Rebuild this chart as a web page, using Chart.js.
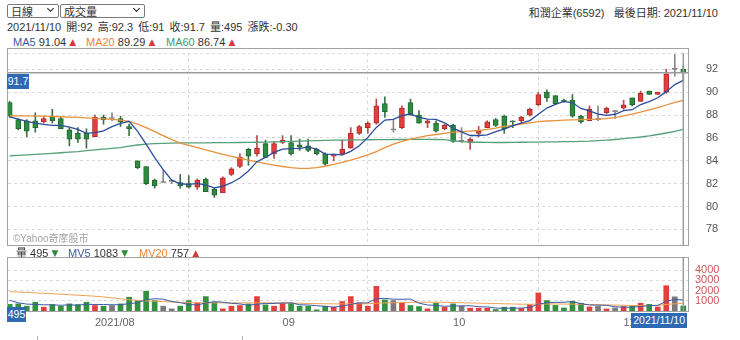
<!DOCTYPE html>
<html lang="zh-Hant">
<head>
<meta charset="utf-8">
<title>和潤企業(6592) 日線</title>
<script src="https://cdn.jsdelivr.net/npm/chart.js@4.4.1/dist/chart.umd.min.js"></script>
<style>
  html,body{margin:0;padding:0;background:#fff}
  body{width:740px;height:340px;position:relative;overflow:hidden;
       font-family:"Liberation Sans",Arial,"Noto Sans CJK TC",sans-serif;color:#333;font-size:11px}
  .t{position:absolute;white-space:nowrap;line-height:14px}
  .sel{position:absolute;top:4px;height:12px;border:1px solid #7a7a7a;border-radius:2px;background:#fff;
       line-height:12px;font-size:11px;padding-left:3px;font-family:"Noto Sans CJK TC",sans-serif}
  .sel i{position:absolute;right:5px;top:1px;width:4px;height:4px;border-right:1.6px solid #222;
         border-bottom:1.6px solid #222;transform:rotate(45deg)}
  .panel{position:absolute;border:1px solid #a2a2a2;box-sizing:border-box;pointer-events:none}
  .tag{position:absolute;background:#2f69b3;color:#fff;font-size:10.5px;line-height:15px;height:15px;
       text-align:center;white-space:nowrap}
  canvas{position:absolute;left:0}
  .up{color:#d9363e}.dn{color:#2f8a3e}
  .tri{font-size:9px;font-family:"DejaVu Sans",sans-serif;position:relative;top:-1px}
  .nav{position:absolute;top:336px;width:1px;height:4px;background:#b0b0b0}
</style>
</head>
<body>
<div class="sel" style="left:7px;width:47px">日線<i></i></div>
<div class="sel" style="left:60px;width:80px">成交量<i></i></div>
<div class="t" style="right:22px;top:6px">和潤企業(6592)&nbsp;&nbsp; 最後日期: <span id="lastDate"></span></div>

<div class="t" id="quote" style="left:7px;top:20px;word-spacing:2px"></div>
<div id="maLegend"></div>

<canvas id="price" width="740" height="202" style="top:48px"></canvas>
<div class="panel" style="left:7px;top:48px;width:682px;height:198px"></div>
<div class="t" style="left:13px;top:232px;font-size:10px;color:#a3a3a3">©Yahoo奇摩股市</div>

<div id="volLegend"></div>
<canvas id="vol" width="740" height="85" style="top:250px"></canvas>
<div class="panel" style="left:7px;top:257px;width:682px;height:55px"></div>

<div class="tag" id="priceTag" style="left:7px;width:22px"></div>
<div class="tag" id="volTag" style="left:7px;width:19px"></div>
<div class="tag" id="dateTag" style="right:53px;top:313px;padding:0 2px"></div>
<div class="nav" style="left:37px"></div>
<div class="nav" style="left:242px"></div>

<script>
// Trading days shown on the daily chart
const dates = [
  "2021/07/19","2021/07/20","2021/07/21","2021/07/22","2021/07/23","2021/07/26","2021/07/27","2021/07/28","2021/07/29","2021/07/30",
  "2021/08/02","2021/08/03","2021/08/04","2021/08/05","2021/08/06","2021/08/09","2021/08/10","2021/08/11","2021/08/12","2021/08/13",
  "2021/08/16","2021/08/17","2021/08/18","2021/08/19","2021/08/20","2021/08/23","2021/08/24","2021/08/25","2021/08/26","2021/08/27",
  "2021/08/30","2021/08/31",
  "2021/09/01","2021/09/02","2021/09/03","2021/09/06","2021/09/07","2021/09/08","2021/09/09","2021/09/10","2021/09/13","2021/09/14",
  "2021/09/15","2021/09/16","2021/09/17","2021/09/22","2021/09/23","2021/09/24","2021/09/27","2021/09/28","2021/09/29","2021/09/30",
  "2021/10/01","2021/10/04","2021/10/05","2021/10/06","2021/10/07","2021/10/08","2021/10/12","2021/10/13","2021/10/14","2021/10/15",
  "2021/10/18","2021/10/19","2021/10/20","2021/10/21","2021/10/22","2021/10/25","2021/10/26","2021/10/27","2021/10/28","2021/10/29",
  "2021/11/01","2021/11/02","2021/11/03","2021/11/04","2021/11/05","2021/11/08","2021/11/09","2021/11/10"
];

const opens = [
  89.1,87.6,87.5,87.5,87.4,87.9,87.7,86.7,86.4,86.4,
  86.1,87.8,87.7,87.7,87.0,84.0,83.5,82.3,82.1,82.2,
  82.1,82.0,81.7,82.4,81.5,81.2,82.8,83.5,85.0,84.6,
  85.5,84.6,85.6,85.6,85.4,85.3,85.0,84.6,84.4,84.6,
  85.1,86.4,86.9,87.3,89.0,86.7,86.9,89.1,88.0,87.3,
  87.3,86.8,87.1,85.7,85.6,86.4,86.9,87.6,87.9,87.5,
  87.5,88.0,88.9,90.0,89.7,89.3,89.3,87.9,87.5,87.6,
  88.2,88.3,88.6,89.5,89.2,90.1,89.8,90.0,92.0,92.0
];
const highs = [
  89.2,87.7,87.6,88.2,87.9,88.5,87.8,86.9,86.9,86.8,
  88.0,88.0,88.2,87.9,87.2,84.0,83.5,82.4,83.2,82.3,
  82.8,82.7,82.4,82.5,81.6,82.6,83.4,84.6,85.1,86.2,
  85.8,85.7,86.2,86.2,85.9,85.9,85.1,84.7,84.6,85.8,
  86.9,87.1,87.4,89.4,89.6,87.6,88.8,89.4,88.4,87.6,
  87.5,87.2,87.2,86.9,86.0,87.0,87.5,87.7,88.0,87.5,
  87.9,88.6,90.0,90.2,89.7,89.4,89.8,88.0,88.8,88.8,
  88.7,88.4,89.3,89.5,90.1,90.1,90.0,92.0,93.3,92.3
];
const lows = [
  87.8,86.7,86.1,86.5,87.3,87.3,86.8,85.3,85.6,85.1,
  86.1,87.2,87.5,87.0,86.2,83.3,81.9,81.6,82.1,82.0,
  81.6,81.6,81.5,81.3,80.8,81.2,82.7,83.4,83.6,84.4,
  84.3,84.2,85.5,84.5,84.9,84.8,84.5,83.6,84.0,84.5,
  85.1,86.3,86.4,87.2,87.8,86.5,86.8,88.0,87.3,86.9,
  86.5,86.7,85.6,85.6,85.0,86.1,86.9,87.0,86.4,86.9,
  87.3,87.9,88.8,89.2,89.0,89.1,87.8,87.3,87.5,87.5,
  88.1,87.7,88.5,88.8,89.2,89.8,89.8,89.9,91.4,91.0
];
const closes = [
  87.9,86.8,86.6,86.9,87.7,87.5,86.8,85.9,85.9,85.9,
  87.8,87.6,87.7,87.4,86.8,83.4,82.0,81.8,82.1,82.2,
  81.8,81.7,82.3,81.3,81.0,82.5,83.3,84.3,84.4,85.1,
  84.3,85.5,85.8,84.6,85.2,84.9,84.6,83.7,84.5,85.0,
  86.4,87.0,87.3,88.8,88.3,86.7,88.6,88.0,87.3,87.5,
  86.6,87.1,85.7,85.7,85.9,86.6,87.4,87.1,86.8,87.4,
  87.8,88.5,89.8,89.5,89.0,89.2,87.9,87.4,88.5,87.6,
  88.6,88.3,88.9,88.9,89.9,89.8,90.0,91.6,92.0,91.7
];

// Moving averages of the close
const ma5 = [
  87.85,87.65,87.45,87.30,87.18,87.09,87.10,86.94,86.75,86.40,
  86.46,86.62,86.99,87.28,87.45,86.58,85.45,84.28,83.23,82.30,
  81.99,81.94,82.03,81.87,81.63,81.77,82.08,82.49,83.10,83.92,
  84.29,84.73,85.02,85.06,85.09,85.20,85.01,84.59,84.56,84.52,
  84.82,85.32,86.05,86.92,87.56,87.63,87.95,88.09,87.79,87.64,
  87.63,87.32,86.86,86.53,86.21,86.21,86.27,86.55,86.77,87.07,
  87.30,87.52,88.07,88.61,88.93,89.20,89.07,88.58,88.37,88.09,
  87.98,88.07,88.38,88.47,88.92,89.17,89.51,90.05,90.67,91.04
];
const ma20 = [
  87.94,87.93,87.92,87.91,87.90,87.88,87.85,87.82,87.79,87.75,
  87.71,87.67,87.62,87.55,87.45,87.20,86.90,86.55,86.20,85.85,
  85.55,85.35,85.15,84.95,84.75,84.55,84.38,84.22,84.05,83.90,
  83.75,83.62,83.50,83.40,83.33,83.33,83.40,83.52,83.68,83.85,
  84.05,84.28,84.52,84.80,85.15,85.45,85.70,85.90,86.05,86.20,
  86.30,86.40,86.50,86.55,86.60,86.65,86.75,86.85,87.00,87.10,
  87.20,87.32,87.42,87.48,87.52,87.55,87.58,87.60,87.62,87.64,
  87.68,87.78,87.92,88.08,88.25,88.45,88.65,88.88,89.10,89.29
];
const ma60 = [
  84.44,84.48,84.52,84.56,84.60,84.65,84.70,84.75,84.80,84.88,
  84.95,85.02,85.08,85.15,85.28,85.38,85.46,85.50,85.53,85.55,
  85.56,85.56,85.57,85.57,85.58,85.58,85.59,85.60,85.61,85.62,
  85.64,85.66,85.68,85.70,85.72,85.74,85.76,85.78,85.80,85.81,
  85.82,85.83,85.84,85.85,85.85,85.86,85.86,85.87,85.87,85.87,
  85.86,85.85,85.75,85.68,85.64,85.62,85.61,85.60,85.60,85.61,
  85.62,85.63,85.64,85.65,85.66,85.67,85.68,85.70,85.72,85.76,
  85.80,85.86,85.93,86.00,86.08,86.18,86.30,86.43,86.58,86.74
];

// Daily volume (lots) and its moving averages
const volumes = [
  650,699,472,862,374,634,472,699,634,862,
  537,472,537,699,1350,1024,1935,1024,472,211,
  472,1024,797,1415,862,211,472,537,699,1415,
  602,472,764,764,472,472,114,472,374,927,
  1415,797,472,2423,1090,1024,764,537,439,211,
  764,374,699,472,276,276,276,146,374,374,
  250,634,1773,1024,550,300,959,764,400,450,
  200,300,450,500,764,650,400,2480,1390,495
];
const mv5 = [
  1050,800,680,640,611,608,563,608,563,660,
  641,641,608,621,719,816,1109,1206,1161,933,
  823,641,595,784,914,862,751,699,556,667,
  745,745,790,803,615,589,517,459,381,472,
  660,797,797,1207,1239,1161,1155,1168,771,595,
  543,465,497,504,517,419,400,289,270,289,
  284,356,681,811,846,856,921,719,595,575,
  555,423,360,380,443,533,553,959,1137,1083
];
const mv20 = [
  1900,1860,1820,1780,1740,1700,1650,1600,1550,1500,
  1450,1380,1300,1200,1100,1040,1000,960,920,880,
  850,830,810,800,800,800,800,800,795,800,
  800,790,780,770,760,740,720,710,700,700,
  700,705,710,760,790,810,830,850,860,860,
  862,850,830,810,790,770,750,730,710,690,
  670,660,680,690,690,680,670,660,640,620,
  600,580,560,545,540,545,550,640,700,757
];

// Axis ticks
const priceTicks = [78, 80, 82, 84, 86, 88, 90, 92];
const volumeTicks = [1000, 2000, 3000, 4000];
const monthLabels = ["2021/08", "09", "10", "11"];
const monthStarts = monthLabels.map(m => dates.findIndex(d => d.slice(5, 7) === m.slice(-2)));

const last = dates.length - 1;
const idx = dates.map((_, i) => i);
const dir = idx.map(i => Math.sign(closes[i] - opens[i]));
const pick = (d, up, down, flat) => d > 0 ? up : d < 0 ? down : flat;
const bodyFill = dir.map(d => pick(d, '#e03f3c', '#2f8b3f', '#8d8d8d'));
const bodyEdge = dir.map(d => pick(d, '#b02c2b', '#20692d', '#707070'));
const wickCol  = dir.map(d => pick(d, '#b24d4d', '#3e6f48', '#8a8a8a'));
const volFill  = dir.map(d => pick(d, '#e2403d', '#32913f', '#7a7a7a'));

const FONT = '"Liberation Sans", Arial, sans-serif';
const gridStyle = { color: '#dadada', drawTicks: false, lineWidth: 1 };
const gridBorder = { display: false, dash: [3, 3] };

function xAxis(showLabels) {
  return {
    type: 'linear', min: -0.2, max: last + 0.55, offset: false,
    afterBuildTicks: s => { s.ticks = monthStarts.map(v => ({ value: v })); },
    ticks: {
      display: showLabels, autoSkip: false, maxRotation: 0, align: 'start', padding: 5,
      color: '#666', font: { size: 11, family: FONT },
      callback: v => monthLabels[monthStarts.indexOf(v)] ?? ''
    },
    grid: gridStyle, border: gridBorder,
    afterFit: s => { s.height = showLabels ? 24 : 0; s.paddingLeft = 0; s.paddingRight = 0; }
  };
}

// Crosshair on the latest session
const crosshair = {
  id: 'crosshair',
  afterDatasetsDraw(chart, args, opts) {
    const { ctx, chartArea: a, scales } = chart;
    const x = scales.x.getPixelForValue(opts.index);
    ctx.save();
    ctx.strokeStyle = '#9c9c9c';
    ctx.lineWidth = 1.5;
    ctx.beginPath();
    ctx.moveTo(x, a.top); ctx.lineTo(x, a.bottom);
    if (opts.value != null) {
      const y = scales.y.getPixelForValue(opts.value);
      ctx.moveTo(a.left, y); ctx.lineTo(a.right, y);
    }
    ctx.stroke();
    ctx.restore();
  }
};

const lineSet = (label, values, color, order, width) => ({
  type: 'line', label, order,
  data: idx.map(i => ({ x: i, y: values[i] })),
  borderColor: color, borderWidth: width, pointRadius: 0, tension: 0, fill: false
});

const priceChart = new Chart(document.getElementById('price'), {
  type: 'bar',
  data: {
    datasets: [
      lineSet('MA5', ma5, '#2c4d9c', 1, 1.3),
      lineSet('MA20', ma20, '#e8913d', 2, 1.3),
      lineSet('MA60', ma60, '#55a077', 3, 1.3),
      {
        label: 'K', order: 5, grouped: false,
        data: idx.map(i => ({ x: i, y: [opens[i], closes[i]] })),
        backgroundColor: bodyFill, borderColor: bodyEdge, borderWidth: 1, borderSkipped: false,
        barThickness: 5, minBarLength: 1
      },
      {
        label: 'HL', order: 6, grouped: false,
        data: idx.map(i => ({ x: i, y: [lows[i], highs[i]] })),
        backgroundColor: wickCol, barThickness: 1
      }
    ]
  },
  options: {
    responsive: false, animation: false, events: [],
    layout: { padding: { left: 8, top: 5, right: 0, bottom: 5 } },
    plugins: { legend: { display: false }, tooltip: { enabled: false },
               crosshair: { index: last, value: closes[last] } },
    scales: {
      x: xAxis(false),
      y: {
        position: 'right', min: 76.63, max: 93.43,
        afterBuildTicks: s => { s.ticks = priceTicks.map(v => ({ value: v })).concat([{ value: s.max }]); },
        ticks: { padding: 18, color: '#555', font: { size: 11, family: FONT },
                 callback: v => priceTicks.includes(v) ? String(v) : '' },
        grid: gridStyle, border: gridBorder,
        afterFit: s => { s.width = 52; s.paddingTop = 0; s.paddingBottom = 0; }
      }
    }
  },
  plugins: [crosshair]
});

const volChart = new Chart(document.getElementById('vol'), {
  type: 'bar',
  data: {
    datasets: [
      lineSet('MV5', mv5, '#3a5ba6', 1, 1),
      lineSet('MV20', mv20, '#f0a155', 2, 1),
      {
        label: 'VOL', order: 5, grouped: false,
        data: idx.map(i => ({ x: i, y: volumes[i] })),
        backgroundColor: volFill, barThickness: 5
      }
    ]
  },
  options: {
    responsive: false, animation: false, events: [],
    layout: { padding: { left: 8, top: 7, right: 0, bottom: 0 } },
    plugins: { legend: { display: false }, tooltip: { enabled: false },
               crosshair: { index: last, value: null } },
    scales: {
      x: xAxis(true),
      y: {
        position: 'right', min: 0, max: 5300,
        afterBuildTicks: s => { s.ticks = volumeTicks.map(v => ({ value: v })); },
        ticks: { padding: 7, color: '#c95a57', font: { size: 11, family: FONT }, callback: v => String(v) },
        grid: gridStyle, border: gridBorder,
        afterFit: s => { s.width = 52; s.paddingTop = 0; s.paddingBottom = 0; }
      }
    }
  },
  plugins: [crosshair]
});

// Header, legends and crosshair tags
const fmt = v => String(+v.toFixed(2));
const arrow = (now, prev) => now >= prev ? '<span class="tri up">▲</span>' : '<span class="tri dn">▼</span>';
const esc = s => String(s).replace(/&/g, '&amp;').replace(/</g, '&lt;');

function group(parent, left, top, name, color, value, now, prev) {
  const el = document.createElement('div');
  el.className = 't';
  el.style.left = left + 'px';
  el.style.top = top + 'px';
  el.innerHTML = `<span style="color:${color}">${esc(name)}</span> ${esc(value)} ${arrow(now, prev)}`;
  parent.appendChild(el);
}

document.getElementById('lastDate').textContent = dates[last];

const change = (closes[last] - closes[last - 1]).toFixed(2);
document.getElementById('quote').textContent =
  `${dates[last]} 開:${fmt(opens[last])} 高:${fmt(highs[last])} 低:${fmt(lows[last])} ` +
  `收:${fmt(closes[last])} 量:${volumes[last]} 漲跌:${change}`;

const ml = document.getElementById('maLegend');
group(ml, 13, 35, 'MA5', '#3a5ba5', ma5[last].toFixed(2), ma5[last], ma5[last - 1]);
group(ml, 86, 35, 'MA20', '#e8843a', ma20[last].toFixed(2), ma20[last], ma20[last - 1]);
group(ml, 166, 35, 'MA60', '#3f9c6c', ma60[last].toFixed(2), ma60[last], ma60[last - 1]);

const vl = document.getElementById('volLegend');
group(vl, 16, 246, '量', '#333', volumes[last], volumes[last], volumes[last - 1]);
group(vl, 68, 246, 'MV5', '#3a5ba5', mv5[last], mv5[last], mv5[last - 1]);
group(vl, 139, 246, 'MV20', '#e8843a', mv20[last], mv20[last], mv20[last - 1]);

const pTag = document.getElementById('priceTag');
pTag.textContent = fmt(closes[last]);
pTag.style.top = (48 + priceChart.scales.y.getPixelForValue(closes[last]) + 1) + 'px';

const vTag = document.getElementById('volTag');
vTag.textContent = String(volumes[last]);
vTag.style.top = (250 + volChart.scales.y.getPixelForValue(volumes[last]) + 1) + 'px';

document.getElementById('dateTag').textContent = dates[last];
</script>
</body>
</html>
